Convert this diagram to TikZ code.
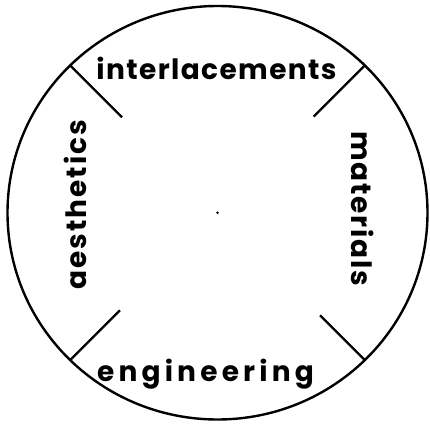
\documentclass[tikz,border=0pt]{standalone}
\usepackage{fontspec}
\setmainfont{Poppins}
\tikzset{
  rim/.style={line width=2.4pt, black},
  divider/.style={line width=2.4pt, black},
  word/.style={font=\fontsize{28}{28}\selectfont\bfseries\addfontfeature{LetterSpace=#1},
               inner sep=0pt, anchor=base}
}
\begin{document}
\begin{tikzpicture}[x=1pt, y=1pt]
\useasboundingbox (-217.5,-210.25) rectangle (212.5,212.75);
\coordinate (hub) at (0,0);
\draw[rim] (hub) ellipse [x radius=210, y radius=206.75];
\fill (hub) circle [radius=1.4pt];
\foreach \ang/\inr in {45/136, 135/135, 225/138, 315/145} {
  \draw[divider] (\ang:209) -- (\ang:\inr);
}
\node[word=5] (topword) at (-1,133) {interlacements};
\node[word=15] (botword) at (-12,-169) {engineering};
\node[word=7.5, rotate=90] (leftword) at (-131,8) {aesthetics};
\node[word=6.5, rotate=-90] (rightword) at (134,4) {materials};
\end{tikzpicture}
\end{document}
